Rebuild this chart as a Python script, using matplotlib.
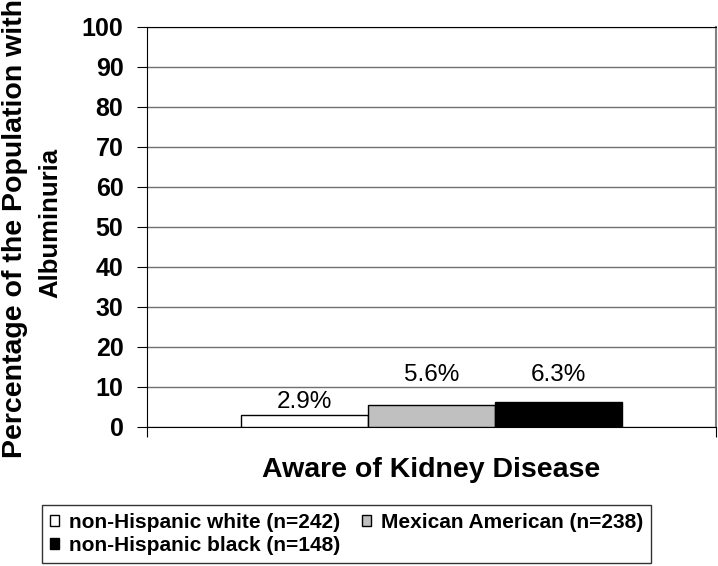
import matplotlib
matplotlib.use("Agg")
import matplotlib.pyplot as plt
import numpy as np

plt.rcParams['font.family'] = ['Liberation Sans', 'DejaVu Sans']

category = "Aware of Kidney Disease"
groups = ["non-Hispanic white (n=242)", "Mexican American (n=238)", "non-Hispanic black (n=148)"]
values = [2.9, 5.6, 6.3]
labels = ["2.9%", "5.6%", "6.3%"]
colors = ["white", "#c0c0c0", "black"]
yticks = list(range(0, 101, 10))
ylabel_lines = ["Percentage of the Population with", "Albuminuria"]

# label offsets above bar tops (points), as placed in the original
label_offsets = [10, 21, 19.5]

W, H = 718, 566
fig = plt.figure(figsize=(W/100, H/100), dpi=100)
ax = fig.add_axes([147/W, 1-427/H, (716-147)/W, (427-27)/H])

bw = 0.668 / 3
offsets = [-bw, 0, bw]
bars = []
for v, c, o, lab, lo in zip(values, colors, offsets, labels, label_offsets):
    b = ax.bar(o, v, width=bw, color=c, edgecolor="black", linewidth=1, zorder=3)
    bars.append(b)
    ax.annotate(lab, (o, v), xytext=(0, lo), textcoords="offset points",
                ha="center", va="center", fontsize=17.5)

ax.set_xlim(-0.5, 0.5)
ax.set_ylim(0, 100)
ax.set_yticks(yticks)
ax.set_yticklabels([str(t) for t in yticks], fontsize=18, fontweight="bold")
ax.yaxis.grid(True, color="#707070", linewidth=1)
ax.set_axisbelow(True)
ax.set_xticks([-0.5, 0.5])
ax.set_xticklabels(["", ""])
ax.tick_params(axis="x", length=7, direction="out", color="black")
ax.tick_params(axis="y", length=7, direction="out", pad=10)

ax.spines["top"].set_color("black")
ax.spines["right"].set_color("#808080")
ax.spines["right"].set_linewidth(1.5)
ax.spines["left"].set_color("black")
ax.spines["bottom"].set_color("black")

ax.set_xlabel(category, fontsize=20.5, fontweight="bold")
ax.xaxis.set_label_coords(0.5, -(470-427)/400)
ax.xaxis.label.set_va("center")

# two-line y label (lines drawn separately to match their sizes)
fig.text(22/W, 1-229/H, ylabel_lines[0], rotation=90, rotation_mode="anchor",
         ha="center", va="baseline", fontsize=20.5, fontweight="bold")
fig.text(57/W, 1-223/H, ylabel_lines[1], rotation=90, rotation_mode="anchor",
         ha="center", va="baseline", fontsize=18.5, fontweight="bold")

handles = [bars[0], bars[2], bars[1]]
hlabels = [groups[0], groups[2], groups[1]]
leg = fig.legend(handles, hlabels, loc="upper left",
                 bbox_to_anchor=(42/W, 1-505/H), ncol=2,
                 prop={"family": "Liberation Sans", "weight": "bold", "size": 15},
                 frameon=True, fancybox=False, edgecolor="black",
                 handlelength=0.45, handleheight=0.45, handletextpad=0.45,
                 columnspacing=1.05, labelspacing=0.18, borderpad=0.38,
                 borderaxespad=0)
leg.get_frame().set_linewidth(1)

fig.savefig("out.png", dpi=100)
